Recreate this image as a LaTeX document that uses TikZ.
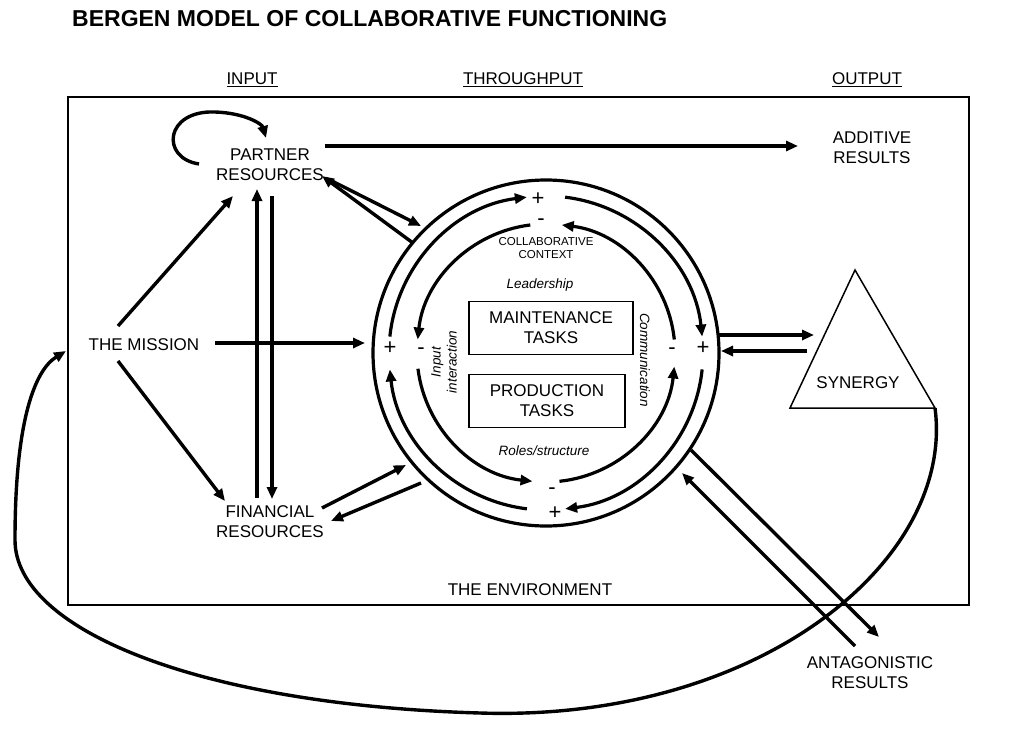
\documentclass[tikz,border=0pt]{standalone}
\usepackage{fontspec}
\setmainfont{Liberation Sans}
\usetikzlibrary{arrows.meta,calc}
\begin{document}
\begin{tikzpicture}[x=1pt,y=-1pt,
  lbl/.style={font=\fontsize{17}{20}\selectfont,align=center,inner sep=1pt},
  sm/.style={font=\fontsize{11.5}{13.5}\selectfont,align=center},
  it/.style={font=\fontsize{13.5}{16}\selectfont\itshape,align=center},
  arr/.style={line width=3.4pt,-{Triangle[length=12pt,width=10pt]}},
  ring/.style={line width=3.2pt,-{Triangle[length=12pt,width=10pt]}},
  sign/.style={font=\fontsize{22}{22}\selectfont,inner sep=0pt,text height=6pt,text depth=0pt}]
\useasboundingbox (0,0) rectangle (1024,746);
\node[anchor=west,font=\fontsize{23}{26}\selectfont\bfseries,inner sep=0pt] (title) at (72,19) {BERGEN MODEL OF COLLABORATIVE FUNCTIONING};
\node[lbl] (input) at (252,80) {\underline{INPUT}};
\node[lbl] (thru) at (523,80) {\underline{THROUGHPUT}};
\node[lbl] (output) at (867,80) {\underline{OUTPUT}};
\draw[line width=1.3pt] (68,97) rectangle (969,605);
\node[lbl] (env) at (530,590) {THE ENVIRONMENT};
\node[lbl] (partner) at (270,165) {PARTNER\\RESOURCES};
\node[lbl] (additive) at (872,148) {ADDITIVE\\RESULTS};
\node[lbl] (mission) at (144,345) {THE MISSION};
\node[lbl] (financial) at (270,522) {FINANCIAL\\RESOURCES};
\node[lbl] (synergy) at (858,383) {SYNERGY};
\node[lbl] (antag) at (870,673) {ANTAGONISTIC\\RESULTS};
% circle
\coordinate (c) at (546,353);
\draw[line width=3.2pt] (c) circle[radius=173];
\foreach \s/\e in {186/263, 277/354, 6/83, 97/174}
  \draw[ring] ($(c)+(\s:157)$) arc[start angle=\s,end angle=\e,radius=157];
\foreach \s/\e in {354/277, 84/6, 173/96, 263/186}
  \draw[ring] ($(c)+(\s:129)$) arc[start angle=\s,end angle=\e,radius=129];
\node[sign] (p1) at (538,202) {+};
\node[sign] (p2) at (703,351) {+};
\node[sign] (p3) at (555,516) {+};
\node[sign] (p4) at (390,351) {+};
\node[sign] (m1) at (541,222) {-};
\node[sign] (m2) at (672,351) {-};
\node[sign] (m3) at (552,491) {-};
\node[sign] (m4) at (421,351) {-};
\node[sm] (ctx) at (546,248) {COLLABORATIVE\\CONTEXT};
\node[it] (lead) at (540,285) {Leadership};
\node[it] (roles) at (544,451) {Roles/structure};
\node[it,rotate=90] (inp) at (444,362) {Input\\interaction};
\node[it,rotate=-90] (comm) at (645,360) {Communication};
\node[lbl,draw,line width=1.3pt,minimum width=164pt,minimum height=53pt] (maint) at (551,328) {MAINTENANCE\\TASKS};
\node[lbl,draw,line width=1.3pt,minimum width=156pt,minimum height=53pt] (prod) at (547,401) {PRODUCTION\\TASKS};
% synergy triangle
\coordinate (ta) at (855,270);
\coordinate (tl) at (790,408);
\coordinate (tr) at (935,408);
\draw[line width=1.5pt] (ta) -- (tl) -- (tr) -- cycle;
% connectors
\coordinate (a1) at (325,146); \coordinate (a2) at (798,146);
\draw[arr] (a1) -- (a2);
\coordinate (b1) at (330,180); \coordinate (b2) at (421,226);
\draw[arr] (b1) -- (b2);
\coordinate (b3) at (413,243); \coordinate (b4) at (322,176);
\draw[arr] (b3) -- (b4);
\coordinate (m0) at (118,326); \coordinate (mp) at (233,196);
\draw[arr] (m0) -- (mp);
\coordinate (m5) at (118,361); \coordinate (mf) at (225,501);
\draw[arr] (m5) -- (mf);
\coordinate (mc0) at (215,343); \coordinate (mc) at (365,343);
\draw[arr] (mc0) -- (mc);
\coordinate (v1) at (257,498); \coordinate (v2) at (257,189);
\draw[arr] (v1) -- (v2);
\coordinate (v3) at (272,196); \coordinate (v4) at (272,499);
\draw[arr] (v3) -- (v4);
\coordinate (f1) at (322,508); \coordinate (f2) at (406,465);
\draw[arr] (f1) -- (f2);
\coordinate (f3) at (421,483); \coordinate (f4) at (331,521);
\draw[arr] (f3) -- (f4);
\coordinate (s1) at (717,335); \coordinate (s2) at (814,335);
\draw[arr] (s1) -- (s2);
\coordinate (s3) at (807,351); \coordinate (s4) at (721,351);
\draw[arr] (s3) -- (s4);
\coordinate (g1) at (691,450); \coordinate (g2) at (879,637);
\draw[arr] (g1) -- (g2);
\coordinate (g3) at (855,646); \coordinate (g4) at (682,473);
\draw[arr] (g3) -- (g4);
% self loop
\coordinate (sl1) at (199,164); \coordinate (sl2) at (266,138);
\draw[arr] (sl1) .. controls (160,158) and (165,110) .. (215,112) .. controls (245,113) and (262,124) .. (sl2);
% feedback loop
\coordinate (fb) at (66,351);
\draw[arr] (tr) .. controls (955,560) and (760,722) .. (480,713) .. controls (200,705) and (15,630) .. (15,540) .. controls (15,420) and (35,370) .. (fb);
\end{tikzpicture}
\end{document}
